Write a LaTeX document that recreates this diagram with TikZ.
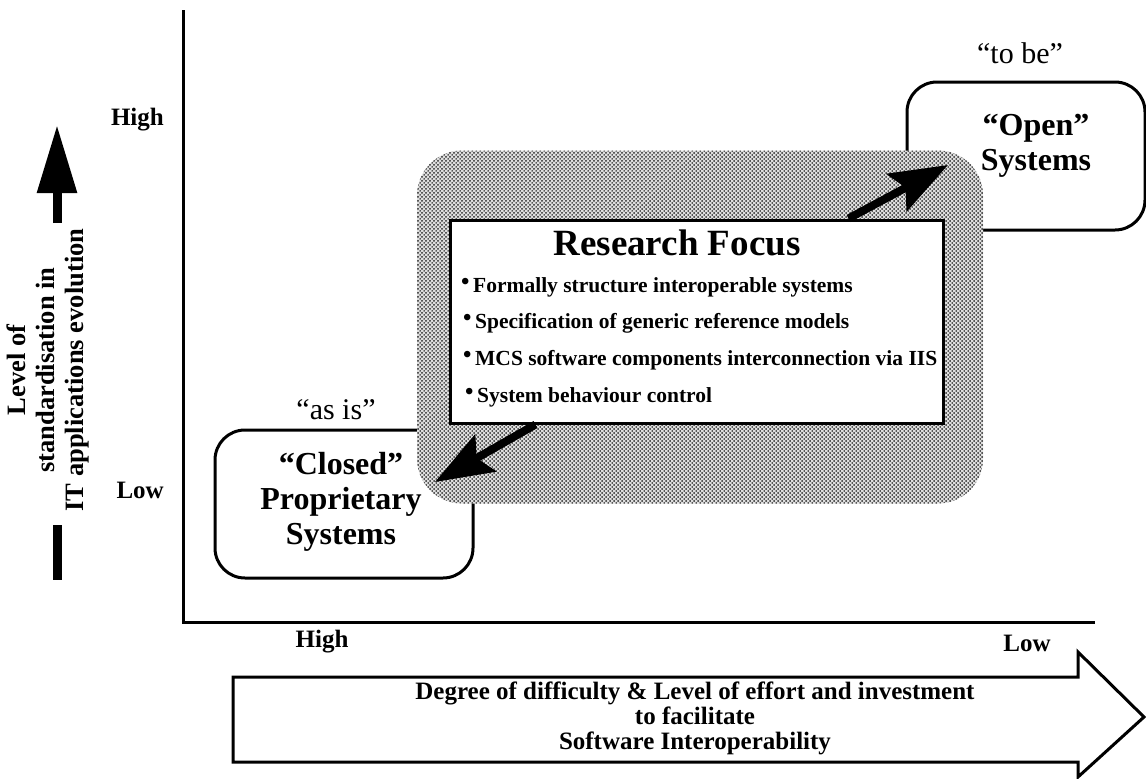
\documentclass[tikz,border=0pt]{standalone}
\usepackage{fontspec}
\setmainfont{Liberation Serif}
\usetikzlibrary{arrows.meta,calc,patterns.meta}
\tikzdeclarepattern{
  name=halftone,
  type=uncolored,
  bottom left={(-.5pt,-.5pt)},
  top right={(3.5pt,3.5pt)},
  tile size={(4pt,4pt)},
  code={
    \fill (0pt,0pt) circle (1pt);
    \fill (2pt,2pt) circle (1pt);
  }
}
\begin{document}
\begin{tikzpicture}[x=1pt,y=-1pt,
  axisline/.style={line width=3pt},
  lbl/.style={font=\fontsize{25}{28}\selectfont\bfseries, inner sep=0pt},
  sysbox/.style={draw, line width=3pt, fill=white, rounded corners=30pt, inner sep=0pt},
  sysname/.style={font=\fontsize{32}{35}\selectfont\bfseries, align=center, inner sep=0pt},
  quoted/.style={font=\fontsize{30}{34}\selectfont, inner sep=0pt},
  haze/.style={fill=black!12, postaction={pattern={halftone}, pattern color=black!85}, rounded corners=45pt, inner sep=0pt},
  focusbox/.style={draw, line width=3pt, fill=white, inner sep=0pt},
  item/.style={font=\fontsize{21.5}{24}\selectfont\bfseries, anchor=west, inner sep=0pt},
  fat/.style={line width=8pt, -{Stealth[length=58pt,width=42pt,inset=10pt]}},
]
\useasboundingbox (0,0) rectangle (1146,779);

% axes
\coordinate (origin) at (183,622);
\coordinate (ytop) at (183,10);
\coordinate (xend) at (1095,622);
\draw[axisline] (ytop) -- (origin) -- (xend);

% vertical indicator arrow and bar
\coordinate (vtail) at (57,223);
\coordinate (vtip) at (57,125);
\draw[line width=9pt, -{Triangle[length=68pt,width=38pt]}] (vtail) -- (vtip);
\fill (52.5,525) rectangle (61.5,580);

% vertical axis labels
\node[lbl, anchor=east] (yhigh) at (164,120) {High};
\node[lbl, anchor=east] (ylow) at (164,490) {Low};
\node[font=\fontsize{26.5}{29}\selectfont\bfseries, inner sep=0pt, align=center, rotate=90] (ytitle) at (48,370)
  {Level of\\standardisation in\\IT applications evolution};

% system boxes
\node[sysbox, minimum width=238pt, minimum height=148pt] (open) at (1026,156) {};
\node[sysbox, minimum width=258pt, minimum height=148pt] (closed) at (344,504) {};

% shaded research area
\node[haze, minimum width=566pt, minimum height=353pt] (area) at (700,327) {};

% research focus box
\node[focusbox, minimum width=493pt, minimum height=203pt] (focus) at (696.5,321.5) {};
\node[font=\fontsize{37}{40}\selectfont\bfseries, inner sep=0pt] (title) at (677,243) {Research Focus};
\newcommand{\dotmark}{{\fontsize{24}{24}\selectfont\raisebox{3pt}{•}}\,}
\node[item] (i1) at (461,287) {\dotmark Formally structure interoperable systems};
\node[item] (i2) at (463,323) {\dotmark Specification of generic reference models};
\node[item] (i3) at (463,360) {\dotmark MCS software components interconnection via IIS};
\node[item] (i4) at (465,397) {\dotmark System behaviour control};

% box texts
\node[quoted] (tobe) at (1020,53) {“to be”};
\node[sysname] (openname) at (1036,146) {“Open”\\Systems};
\node[quoted] (asis) at (336,410) {“as is”};
\node[sysname] (closedname) at (341,502) {“Closed”\\Proprietary\\Systems};

% arrows out of the research focus box
\coordinate (uptail) at ($(focus.north west)+(400,0)$);
\coordinate (uptip) at (948,165);
\draw[fat] (uptail) -- (uptip);
\coordinate (downtail) at ($(focus.south west)+(87,0)$);
\coordinate (downtip) at (435,482);
\draw[fat] (downtail) -- (downtip);

% horizontal axis labels
\node[lbl] (xhigh) at (322,642) {High};
\node[lbl] (xlow) at (1027,643) {Low};

% big effort arrow
\draw[line width=3pt, line join=miter] (233,677) -- (1078,677) -- (1078,652) -- (1144,717)
  -- (1078,777) -- (1078,762) -- (233,762) -- cycle;
\node[font=\fontsize{25}{25}\selectfont\bfseries, align=center, inner sep=0pt] (effort) at (695,718)
  {Degree of difficulty \& Level of effort and investment\\to facilitate\\Software Interoperability};
\end{tikzpicture}
\end{document}
